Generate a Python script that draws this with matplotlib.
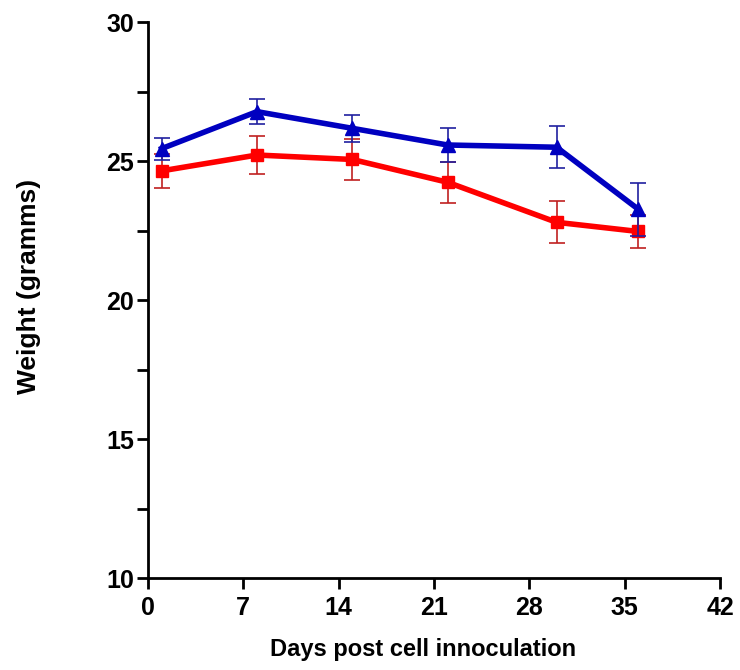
import matplotlib
matplotlib.use('Agg')
import matplotlib.pyplot as plt
from matplotlib.ticker import MultipleLocator

plt.rcParams['font.family'] = ['Liberation Sans', 'DejaVu Sans']
plt.rcParams['font.weight'] = 'bold'

days = [1, 8, 15, 22, 30, 36]
blue_mean = [25.45, 26.78, 26.18, 25.58, 25.5, 23.27]
blue_err = [0.4, 0.45, 0.48, 0.6, 0.76, 0.95]
red_mean = [24.65, 25.22, 25.06, 24.24, 22.8, 22.47]
red_err = [0.6, 0.67, 0.75, 0.74, 0.76, 0.6]

fig = plt.figure(figsize=(7.4, 6.7), dpi=100)
ax = fig.add_axes([0.2, 0.137, 0.773, 0.830])

ax.errorbar(days, blue_mean, yerr=blue_err, color='#0000c0', lw=4, marker='^', ms=10,
            ecolor='#2020a0', elinewidth=1.2, capsize=6, capthick=1.2, zorder=3)
ax.errorbar(days, red_mean, yerr=red_err, color='#ff0000', lw=4, marker='s', ms=8,
            ecolor='#c02020', elinewidth=1.2, capsize=6, capthick=1.2, zorder=2)

ax.set_xlim(0, 42)
ax.set_ylim(10, 30)
ax.set_xticks([0, 7, 14, 21, 28, 35, 42])
ax.set_yticks([10, 15, 20, 25, 30])
ax.yaxis.set_minor_locator(MultipleLocator(2.5))
ax.spines['top'].set_visible(False)
ax.spines['right'].set_visible(False)
ax.spines['left'].set_linewidth(2)
ax.spines['bottom'].set_linewidth(2)
ax.tick_params(axis='both', which='major', length=8, width=2, labelsize=18)
ax.tick_params(axis='x', which='major', pad=5)
ax.tick_params(axis='y', which='major', pad=2)
ax.tick_params(axis='y', which='minor', length=8, width=2)

ax.set_xlabel('Days post cell innoculation', fontsize=17, fontweight='bold')
ax.set_ylabel('Weight (gramms)', fontsize=19, fontweight='bold')
ax.xaxis.set_label_coords(0.481, -0.108)
ax.yaxis.set_label_coords(-0.187, 0.525)

fig.savefig('out.png', dpi=100)
